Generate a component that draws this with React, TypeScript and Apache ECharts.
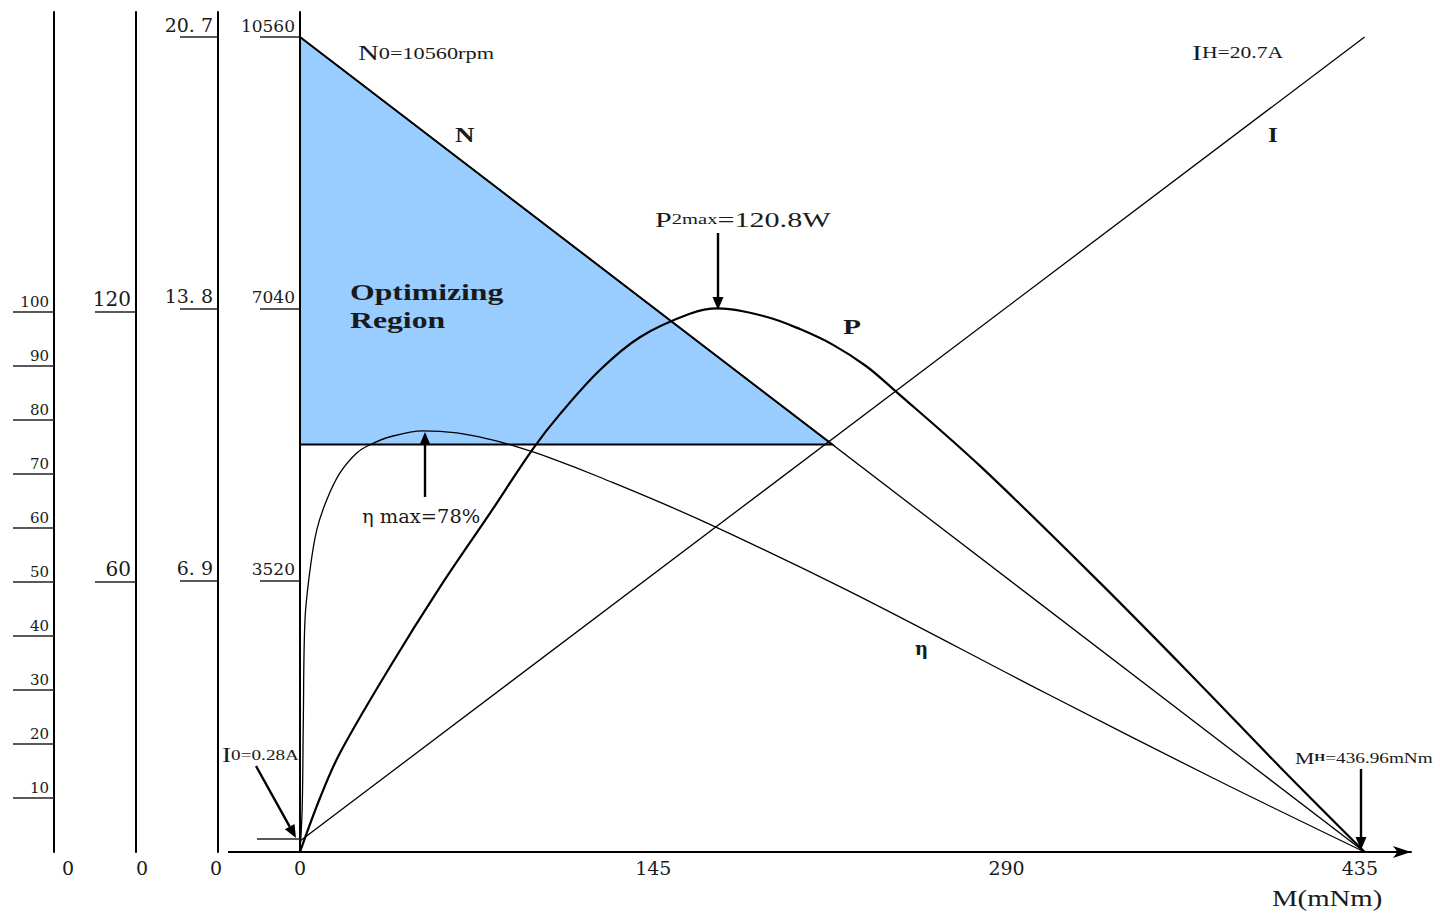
import React, { useEffect, useRef } from "react";
import * as echarts from "echarts";

// ---- tick values ----
const torqueTicks = [0, 145, 290, 435];
const speedTicks = [3520, 7040, 10560];
const currentTicks = [6.9, 13.8, 20.7];
const powerTicks = [60, 120];
const efficiencyTicks = [10, 20, 30, 40, 50, 60, 70, 80, 90, 100];

// ---- series (torque in mNm) ----
const speedTorque = [0, 436.96];
const speedValues = [10560, 0];

const currentTorque = [0, 436.96];
const currentValues = [0.28, 20.7];

const powerTorque = [0, 8.2, 16.4, 36.9, 57.5, 78.0, 95.6, 106.7, 123.1, 139.5, 160.0, 171.6, 191.7, 205.2, 218.8, 232.3, 243.0, 279.1, 328.4, 369.4, 402.2, 436.96];
const powerValues = [0, 12.0, 22.0, 41.1, 58.9, 75.3, 89.6, 97.3, 107.1, 114.4, 119.6, 120.8, 118.9, 116.2, 112.7, 108.0, 103.1, 85.8, 59.8, 37.3, 18.9, 0];

const effTorque = [0, 0.9, 1.36, 2.05, 4.1, 6.86, 10.96, 16.4, 23.3, 28.7, 37.0, 50.5, 64.4, 78.0, 87.8, 102.6, 123.1, 164.2, 224.5, 306.6, 374.7, 436.96];
const effValues = [0, 8.1, 24.4, 43.0, 52.2, 59.6, 65.2, 70.2, 73.9, 75.4, 76.9, 78.0, 77.6, 76.4, 75.2, 73.0, 69.4, 61.5, 48.5, 29.3, 13.7, 0];

// optimizing region (torque, speed)
const regionTorque = [0, 218.48, 0];
const regionSpeed = [10560, 5280, 5280];

// ---- axis ranges (layout) ----
const TORQUE_MAX = 456;
const SPEED_MAX = 10884;
const CURRENT_MAX = 21.335;
const POWER_MAX = 186.67;
const EFF_MAX = 155.56;

const SERIF = "Liberation Serif";
const DEJAVU = "DejaVu Serif";
const INK = "#1a1a1a";
const TOP_Z = 100;

const zip = (a: number[], b: number[]) => a.map((v, i) => [v, b[i]]);

function arrow(x1: number, y1: number, x2: number, y2: number, head = 13, w = 5.5) {
  const dx = x2 - x1, dy = y2 - y1;
  const L = Math.hypot(dx, dy);
  const ux = dx / L, uy = dy / L;
  const bx = x2 - ux * head, by = y2 - uy * head;
  const px = -uy, py = ux;
  return [
    { type: "line", z: TOP_Z, shape: { x1, y1, x2: bx, y2: by }, style: { stroke: "#000", lineWidth: 2.4 } },
    {
      type: "polygon",
      z: TOP_Z,
      shape: { points: [[x2, y2], [bx + px * w, by + py * w], [bx - px * w, by - py * w]] },
      style: { fill: "#000" },
    },
  ];
}

function txt(x: number, y: number, text: string, opts: any = {}) {
  const { scaleX = 1, fontSize = 18, fontFamily = SERIF, fontWeight = "normal", rich, align = "left" } = opts;
  return {
    type: "text",
    z: TOP_Z,
    x,
    y,
    scaleX,
    style: {
      text,
      fontSize,
      fontFamily,
      fontWeight,
      fill: INK,
      align,
      textAlign: align,
      verticalAlign: "middle",
      textVerticalAlign: "middle",
      rich,
    },
  };
}

function yAxis(offset: number, max: number, ticks: number[], fontSize: number, tickLen: number, formatter?: (v: number) => string) {
  return {
    type: "value",
    position: "left",
    offset,
    min: 0,
    max,
    axisLine: { show: true, onZero: false, lineStyle: { color: "#000", width: 2 } },
    axisTick: { show: true, inside: false, length: tickLen, customValues: ticks, lineStyle: { color: "#222", width: 1.5 } },
    axisLabel: {
      show: true,
      customValues: ticks,
      margin: 5,
      verticalAlign: "bottom",
      padding: [0, 0, 3, 0],
      fontFamily: DEJAVU,
      fontSize,
      color: INK,
      formatter: formatter || ((v: number) => String(v)),
    },
    splitLine: { show: false },
  };
}

export default function App() {
  const ref = useRef<HTMLDivElement>(null);

  useEffect(() => {
    if (!ref.current) return;
    const chart = echarts.init(ref.current, undefined, { renderer: "svg" });

    const graphics: any[] = [
      // x-axis extension to the left of the speed axis
      { type: "line", z: TOP_Z, shape: { x1: 228, y1: 852, x2: 300, y2: 852 }, style: { stroke: "#000", lineWidth: 2 } },
      // I0 marker
      { type: "line", z: TOP_Z, shape: { x1: 257, y1: 839, x2: 300, y2: 839 }, style: { stroke: "#222", lineWidth: 1.5 } },
      ...arrow(718, 233, 718, 310),
      ...arrow(425, 497, 425, 432),
      ...arrow(256, 766, 296, 838),
      ...arrow(1361, 769, 1361, 850),
      txt(68, 868, "0", { fontFamily: DEJAVU, fontSize: 19, align: "center" }),
      txt(142, 868, "0", { fontFamily: DEJAVU, fontSize: 19, align: "center" }),
      txt(216, 868, "0", { fontFamily: DEJAVU, fontSize: 19, align: "center" }),
      txt(358, 53, "{a|N}{b|0=10560rpm}", {
        scaleX: 1.31,
        rich: { a: { fontSize: 22, fontFamily: SERIF }, b: { fontSize: 17, fontFamily: SERIF } },
      }),
      txt(455, 135, "N", { fontSize: 20, fontWeight: "bold", scaleX: 1.35 }),
      txt(350, 292, "Optimizing", { fontSize: 23, fontWeight: "bold", scaleX: 1.38 }),
      txt(350, 320, "Region", { fontSize: 23, fontWeight: "bold", scaleX: 1.38 }),
      txt(655, 219, "{a|P}{b|2max}{a|=120.8W}", {
        scaleX: 1.37,
        rich: { a: { fontSize: 22, fontFamily: SERIF }, b: { fontSize: 15, fontFamily: SERIF } },
      }),
      txt(843, 327, "P", { fontSize: 21, fontWeight: "bold", scaleX: 1.4 }),
      txt(1192, 53, "{a|I}{b|H=20.7A}", {
        scaleX: 1.35,
        rich: { a: { fontSize: 22, fontFamily: SERIF }, b: { fontSize: 16, fontFamily: SERIF } },
      }),
      txt(1268, 135, "I", { fontSize: 20, fontWeight: "bold", scaleX: 1.25 }),
      txt(362, 517, "η max=78%", { fontFamily: DEJAVU, fontSize: 18, scaleX: 1.08 }),
      txt(915, 648, "η", { fontFamily: DEJAVU, fontSize: 18, fontWeight: "bold" }),
      txt(222, 755, "{a|I}{b|0=0.28A}", {
        scaleX: 1.37,
        rich: { a: { fontSize: 20, fontFamily: SERIF }, b: { fontSize: 14, fontFamily: SERIF } },
      }),
      txt(1295, 758, "{a|M}{h|H}{b|=436.96mNm}", {
        scaleX: 1.28,
        rich: {
          a: { fontSize: 17, fontFamily: SERIF },
          h: { fontSize: 11, fontFamily: SERIF, fontWeight: "bold" },
          b: { fontSize: 15, fontFamily: SERIF },
        },
      }),
      txt(1272, 898, "M(mNm)", { fontSize: 24, scaleX: 1.2 }),
    ];

    chart.setOption({
      animation: false,
      backgroundColor: "#ffffff",
      grid: { left: 300, top: 12, width: 1111, height: 840, containLabel: false, outerBoundsMode: "none" },
      xAxis: {
        type: "value",
        min: 0,
        max: TORQUE_MAX,
        axisLine: {
          show: true,
          onZero: false,
          symbol: ["none", "arrow"],
          symbolSize: [9, 18],
          lineStyle: { color: "#000", width: 2 },
        },
        axisTick: { show: false },
        axisLabel: { customValues: torqueTicks, margin: 6, fontFamily: DEJAVU, fontSize: 19, color: INK },
        splitLine: { show: false },
      },
      yAxis: [
        yAxis(0, SPEED_MAX, speedTicks, 17, 40),
        yAxis(82, CURRENT_MAX, currentTicks, 19, 38, (v: number) => v.toFixed(1).replace(".", ". ")),
        yAxis(164, POWER_MAX, powerTicks, 20, 41),
        yAxis(246, EFF_MAX, efficiencyTicks, 15, 41),
      ],
      series: [
        {
          type: "custom",
          name: "Optimizing Region",
          xAxisIndex: 0,
          yAxisIndex: 0,
          silent: true,
          clip: false,
          z: 1,
          data: [[regionTorque[0], regionSpeed[0]]],
          renderItem: (_params: any, api: any) => {
            const pts = regionTorque.map((m, i) => api.coord([m, regionSpeed[i]]));
            return {
              type: "polygon",
              shape: { points: pts },
              style: { fill: "#99ccff", stroke: "#000", lineWidth: 2, lineJoin: "miter" },
            };
          },
        },
        {
          type: "line",
          name: "N",
          yAxisIndex: 0,
          data: zip(speedTorque, speedValues),
          symbol: "none",
          silent: true,
          z: 3,
          lineStyle: { color: "#000", width: 1.3 },
        },
        {
          type: "line",
          name: "I",
          yAxisIndex: 1,
          data: zip(currentTorque, currentValues),
          symbol: "none",
          silent: true,
          z: 3,
          lineStyle: { color: "#000", width: 1.3 },
        },
        {
          type: "line",
          name: "P",
          yAxisIndex: 2,
          data: zip(powerTorque, powerValues),
          symbol: "none",
          smooth: 0.35,
          silent: true,
          z: 3,
          lineStyle: { color: "#000", width: 2.2 },
        },
        {
          type: "line",
          name: "η",
          yAxisIndex: 3,
          data: zip(effTorque, effValues),
          symbol: "none",
          smooth: 0.35,
          silent: true,
          z: 3,
          lineStyle: { color: "#000", width: 1.3 },
        },
      ],
      graphic: graphics,
    });

    return () => chart.dispose();
  }, []);

  return (
    <div
      ref={ref}
      style={{ position: "fixed", left: 0, top: 0, width: 1440, height: 917, background: "#fff" }}
    />
  );
}
